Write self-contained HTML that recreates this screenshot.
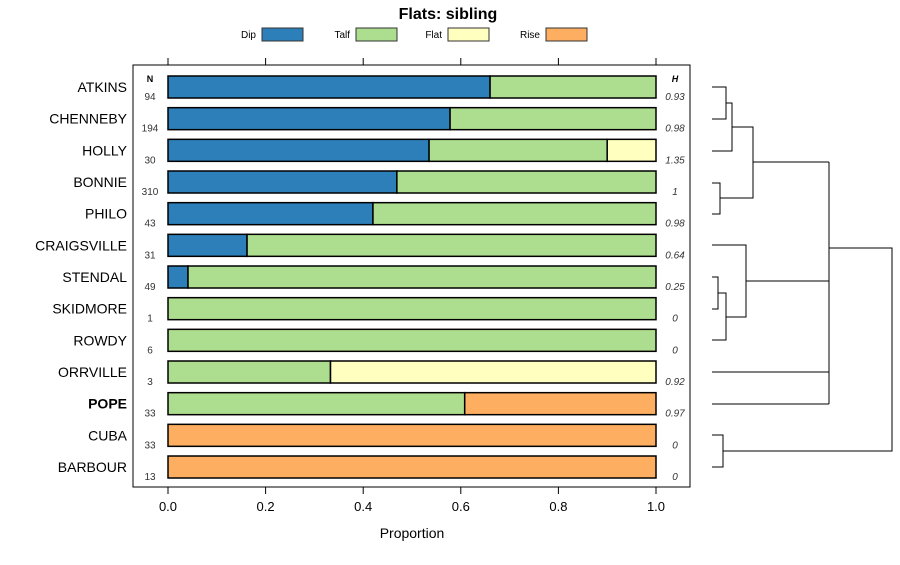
<!DOCTYPE html>
<html><head><meta charset="utf-8"><style>
body{margin:0;background:#fff}
svg text{font-family:"Liberation Sans",sans-serif}
</style></head><body>
<svg id="c" width="900" height="560" xmlns="http://www.w3.org/2000/svg">
<text x="448" y="19" text-anchor="middle" font-size="16" font-weight="bold">Flats: sibling</text>
<g id="legend"></g>
<rect x="133" y="65" width="557" height="422" fill="none" stroke="#000" stroke-width="1"/>
<text x="150" y="82" text-anchor="middle" font-size="9" font-weight="bold">N</text>
<text x="675" y="82" text-anchor="middle" font-size="9" font-weight="bold" font-style="italic">H</text>
<g id="bars"></g><g id="axis"></g><g id="dendro" stroke="#000" stroke-width="1" fill="none"></g>
<text x="412" y="538" text-anchor="middle" font-size="14">Proportion</text>
</svg>
<script>
const categories=["ATKINS","CHENNEBY","HOLLY","BONNIE","PHILO","CRAIGSVILLE","STENDAL","SKIDMORE","ROWDY","ORRVILLE","POPE","CUBA","BARBOUR"];
const nValues=[94,194,30,310,43,31,49,1,6,3,33,33,13];
const hValues=["0.93","0.98","1.35","1","0.98","0.64","0.25","0","0","0.92","0.97","0","0"];
const dip=[0.66,0.578,0.535,0.469,0.42,0.162,0.041,0,0,0,0,0,0];
const talf=[0.34,0.422,0.365,0.531,0.58,0.838,0.959,1,1,0.333,0.608,0,0];
const flat=[0,0,0.10,0,0,0,0,0,0,0.667,0,0,0];
const rise=[0,0,0,0,0,0,0,0,0,0,0.392,1,1];
const seriesNames=["Dip","Talf","Flat","Rise"];
const colors=["#2c7fb8","#addd8e","#ffffbf","#fdae61"];
const ticks=[0,0.2,0.4,0.6,0.8,1.0];
const NS="http://www.w3.org/2000/svg";
const x=v=>168+v*488, y=i=>87+i*31.667;
function mk(t,a,p){const e=document.createElementNS(NS,t);for(const k in a)e.setAttribute(k,a[k]);p.appendChild(e);return e;}
const bars=document.getElementById('bars'),axis=document.getElementById('axis'),leg=document.getElementById('legend'),den=document.getElementById('dendro');
const series=[dip,talf,flat,rise];
categories.forEach((c,i)=>{
 let t=mk('text',{x:127,y:y(i)+5,'text-anchor':'end','font-size':14,'font-weight':c==="POPE"?'bold':'normal'},bars);t.textContent=c;
 
 
 let n=mk('text',{x:150,y:y(i)+13,'text-anchor':'middle','font-size':10,fill:'#333'},bars);n.textContent=nValues[i];
 
 
 let h=mk('text',{x:675,y:y(i)+13,'text-anchor':'middle','font-size':10,'font-style':'italic',fill:'#333'},bars);h.textContent=hValues[i];
 
 
 let acc=0;
 series.forEach((s,k)=>{if(s[i]>0){let r=mk('rect',{x:x(acc),y:y(i)-11,width:x(acc+s[i])-x(acc),height:22,fill:colors[k],stroke:'#000','stroke-width':1.5},bars);
 
 
 acc+=s[i];}});
});
ticks.forEach(v=>{
 mk('line',{x1:x(v),x2:x(v),y1:487,y2:494,stroke:'#000'},axis);
 mk('line',{x1:x(v),x2:x(v),y1:58,y2:65,stroke:'#000'},axis);
 let t=mk('text',{x:x(v),y:511,'text-anchor':'middle','font-size':13},axis);t.textContent=v.toFixed(1);
 
 
});
const legX=[262,356,448,546];
seriesNames.forEach((s,k)=>{
 let t=mk('text',{x:legX[k]-6,y:38,'text-anchor':'end','font-size':10},leg);t.textContent=s;
 
 
 let r=mk('rect',{x:legX[k],y:28,width:41,height:13,fill:colors[k],stroke:'#333'},leg);
 
 
});
// dendrogram: [y1,y2,xleft1,xleft2,xnode]
const L=712;
const links=[[87,119,L,L,726],[103,151,726,L,732],[183,214,L,L,720],[127,198,732,720,753],[277,309,L,L,718],[293,340,718,L,726],[245,317,L,726,746],[435,467,L,L,723]];
links.forEach(([a,b,xa,xb,xn])=>{mk('path',{d:`M${xa},${a}H${xn}V${b}H${xb}`},den);});
// multiway node
[[162,753],[281,746],[372,L],[404,L]].forEach(([yy,xx])=>mk('line',{x1:xx,x2:829,y1:yy,y2:yy},den));
mk('line',{x1:829,x2:829,y1:162,y2:404},den);
mk('path',{d:'M829,248H892V451H723'},den);
</script>
</body></html>
